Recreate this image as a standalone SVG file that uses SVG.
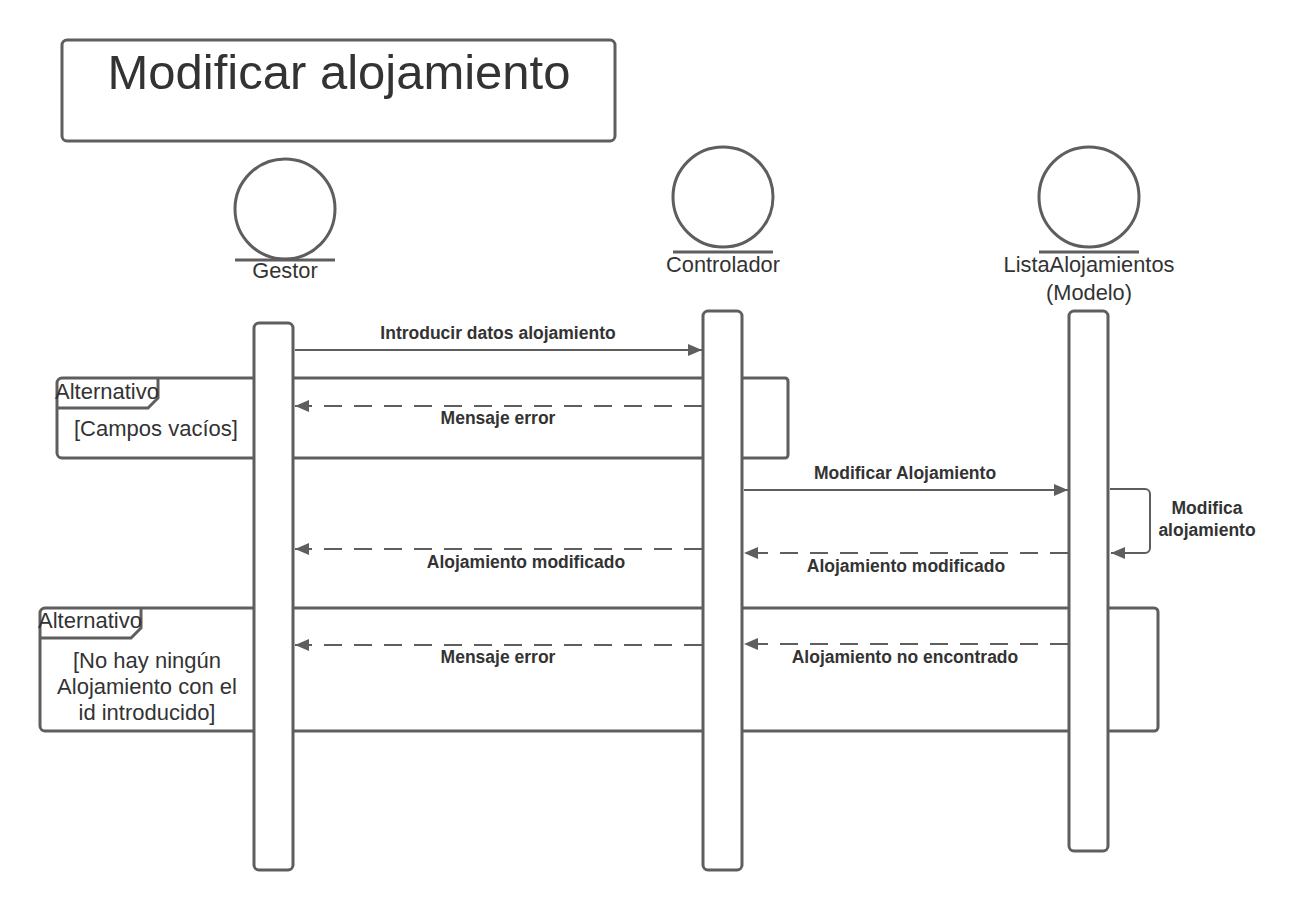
<svg xmlns="http://www.w3.org/2000/svg" width="1297" height="911" viewBox="0 0 1297 911">
<style>
.box{fill:#fff;stroke:#5e5e5e;stroke-width:3}
.frame{fill:none;stroke:#5e5e5e;stroke-width:3}
.msg{fill:none;stroke:#5e5e5e;stroke-width:2}
.dash{stroke-dasharray:18 12}
.lbl{font-family:"Liberation Sans",Arial,sans-serif;font-size:17.5px;font-weight:bold;fill:#333;text-anchor:middle}
.act{font-family:"Liberation Sans",Arial,sans-serif;font-size:21.8px;fill:#333;text-anchor:middle}
.ft{font-family:"Liberation Sans",Arial,sans-serif;font-size:22px;fill:#333}
</style>
<defs>
<marker id="ah" markerWidth="14" markerHeight="12" refX="14" refY="6" orient="auto" markerUnits="userSpaceOnUse">
<path d="M0,0 L14,6 L0,12 Z" fill="#5e5e5e"/>
</marker>
</defs>
<rect width="1297" height="911" fill="#fff"/>
<g id="title">
<rect x="62" y="40" width="553" height="101" rx="5" class="frame"/>
<text x="339" y="89" font-family="Liberation Sans,Arial,sans-serif" font-size="49" fill="#333" text-anchor="middle">Modificar alojamiento</text>
</g>
<g id="frame1">
<path d="M62,378 H785 a3,3 0 0 1 3,3 V455 a3,3 0 0 1 -3,3 H62 a5,5 0 0 1 -5,-5 V383 a5,5 0 0 1 5,-5 Z" class="frame"/>
<path d="M57,408 H148 L158,398 V378" class="frame"/>
<text x="55" y="399" class="ft">Alternativo</text>
<text x="74" y="436" class="ft">[Campos vacíos]</text>
</g>
<g id="frame2">
<path d="M45,608 H1154 a4,4 0 0 1 4,4 V727 a4,4 0 0 1 -4,4 H45 a5,5 0 0 1 -5,-5 V613 a5,5 0 0 1 5,-5 Z" class="frame"/>
<path d="M40,638 H131 L141,628 V608" class="frame"/>
<text x="38" y="628" class="ft">Alternativo</text>
<text x="147" y="668" class="ft" text-anchor="middle">[No hay ningún</text>
<text x="147" y="694" class="ft" text-anchor="middle">Alojamiento con el</text>
<text x="147" y="720" class="ft" text-anchor="middle">id introducido]</text>
</g>
<g id="gestor">
<circle cx="285" cy="209" r="50" class="frame"/>
<line x1="235" y1="260" x2="335" y2="260" class="frame"/>
<text x="285" y="278" class="act">Gestor</text>
<rect x="254" y="323" width="39" height="547" rx="5" class="box"/>
</g>
<g id="controlador">
<circle cx="723" cy="197" r="50" class="frame"/>
<line x1="673" y1="252" x2="773" y2="252" class="frame"/>
<text x="723" y="272" class="act">Controlador</text>
<rect x="703" y="311" width="39" height="559" rx="5" class="box"/>
</g>
<g id="lista">
<circle cx="1089" cy="197" r="50" class="frame"/>
<line x1="1039" y1="252" x2="1139" y2="252" class="frame"/>
<text x="1089" y="272" class="act">ListaAlojamientos</text>
<text x="1089" y="300" class="act">(Modelo)</text>
<rect x="1069" y="311" width="39" height="540" rx="5" class="box"/>
</g>
<g id="connectors">
<line x1="295" y1="350" x2="702" y2="350" class="msg" marker-end="url(#ah)"/>
<text x="498" y="339" class="lbl">Introducir datos alojamiento</text>
<line x1="702" y1="406" x2="295" y2="406" class="msg dash" marker-end="url(#ah)"/>
<text x="498" y="424" class="lbl">Mensaje error</text>
<line x1="744" y1="490" x2="1068" y2="490" class="msg" marker-end="url(#ah)"/>
<text x="905" y="479" class="lbl">Modificar Alojamiento</text>
<path d="M1110,489 H1145 a5,5 0 0 1 5,5 V548 a5,5 0 0 1 -5,5 H1111" class="msg" marker-end="url(#ah)"/>
<text x="1207" y="514" class="lbl">Modifica</text>
<text x="1207" y="536" class="lbl">alojamiento</text>
<line x1="1068" y1="553" x2="744" y2="553" class="msg dash" marker-end="url(#ah)"/>
<text x="906" y="572" class="lbl">Alojamiento modificado</text>
<line x1="702" y1="549" x2="295" y2="549" class="msg dash" marker-end="url(#ah)"/>
<text x="526" y="568" class="lbl">Alojamiento modificado</text>
<line x1="702" y1="645" x2="295" y2="645" class="msg dash" marker-end="url(#ah)"/>
<text x="498" y="663" class="lbl">Mensaje error</text>
<line x1="1068" y1="644" x2="744" y2="644" class="msg dash" marker-end="url(#ah)"/>
<text x="905" y="663" class="lbl">Alojamiento no encontrado</text>
</g>
</svg>
